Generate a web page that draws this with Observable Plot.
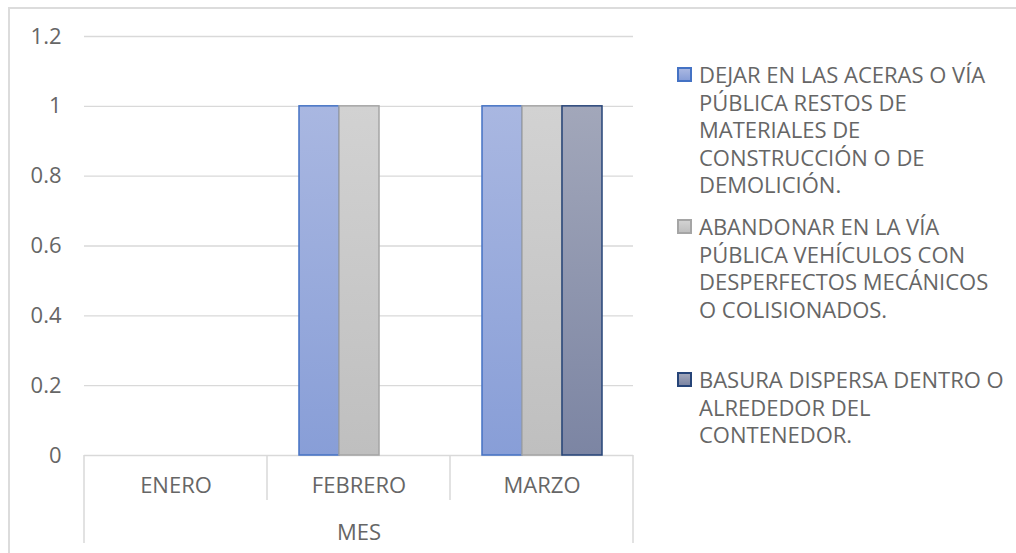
<!DOCTYPE html>
<html>
<head>
<meta charset="utf-8">
<script src="https://cdn.jsdelivr.net/npm/d3@7"></script>
<script src="https://cdn.jsdelivr.net/npm/@observablehq/plot@0.6"></script>
<style>
  html, body { margin: 0; padding: 0; background: #fff; }
  #wrap { position: relative; width: 1016px; height: 553px; overflow: hidden; font-family: "Open Sans", sans-serif; color: #666666; }
  #frame { position: absolute; left: 8px; top: 7px; width: 1100px; height: 700px; border-left: 2px solid #dcdcdc; border-top: 2px solid #dcdcdc; }
  #chart { position: absolute; left: 0; top: 0; }
  .item { position: absolute; left: 677px; font-size: 22px; line-height: 27.5px; }
  .item .sw { position: absolute; left: 0; top: 6px; width: 11px; height: 11px; border: 2px solid; }
  .item .tx { position: absolute; left: 22px; top: 0; white-space: nowrap; }
</style>
</head>
<body>
<div id="wrap">
  <div id="frame"></div>
  <div id="chart"></div>
  <div id="legend"></div>
</div>
<script>
// ---- data ----
const months = ["ENERO", "FEBRERO", "MARZO"];
const legendLines = [
  ["DEJAR EN LAS ACERAS O VÍA", "PÚBLICA RESTOS DE", "MATERIALES DE", "CONSTRUCCIÓN O DE", "DEMOLICIÓN."],
  ["ABANDONAR EN LA VÍA", "PÚBLICA VEHÍCULOS CON", "DESPERFECTOS MECÁNICOS", "O COLISIONADOS."],
  ["BASURA DISPERSA DENTRO O", "ALREDEDOR DEL", "CONTENEDOR."]
];
const seriesNames = legendLines.map(l => l.join(" "));
const valuesAceras = [0, 1, 1];
const valuesVehiculos = [0, 1, 1];
const valuesBasura = [0, 0, 1];
const yTicks = [0, 0.2, 0.4, 0.6, 0.8, 1, 1.2];
const axisTitle = "MES";

// ---- styles ----
const fillTop = ["#a9b7e1", "#d2d2d2", "#a2a7ba"];
const fillBottom = ["#889ed7", "#bfbfbf", "#7c85a3"];
const strokes = ["#4472c4", "#a5a5a5", "#264478"];
const legendTops = [61, 213, 366];

const seriesValues = [valuesAceras, valuesVehiculos, valuesBasura];
const data = months.flatMap((m, i) => seriesValues.map((vals, s) => ({month: m, series: seriesNames[s], s, value: vals[i]})));

const barMarks = seriesNames.map((name, s) =>
  Plot.barY(data.filter(d => d.s === s), {
    fx: "month", x: "series", y: "value",
    fill: `url(#grad${s})`, stroke: strokes[s], strokeWidth: 1.5,
    strokeOpacity: d => (d.value > 0 ? 1 : 0)
  })
);

const chart = Plot.plot({
  width: 650,
  height: 553,
  marginLeft: 83,
  marginRight: 16,
  marginTop: 36,
  marginBottom: 98,
  style: {fontFamily: "Open Sans, sans-serif", fontSize: "22px", color: "#666666", background: "transparent", overflow: "visible"},
  fx: {domain: months, padding: 0, axis: null},
  x: {domain: seriesNames, paddingInner: 0, paddingOuter: 0.744, axis: null},
  y: {domain: [0, 1.2], axis: null},
  marks: [
    Plot.gridY({ticks: yTicks, stroke: "#d9d9d9", strokeOpacity: 1, strokeWidth: 1.3}),
    ...barMarks,
    Plot.axisY({ticks: yTicks, tickSize: 0, tickPadding: 23, tickFormat: d => String(+d.toFixed(1)), label: null}),
    Plot.axisFx({anchor: "bottom", tickSize: 0, tickPadding: 22, label: axisTitle, labelAnchor: "center", labelOffset: 84})
  ]
});
document.getElementById("chart").appendChild(chart);

// gradients
const svg = d3.select(chart);
const defs = svg.insert("defs", ":first-child");
fillTop.forEach((c, i) => {
  const g = defs.append("linearGradient").attr("id", `grad${i}`).attr("x1", 0).attr("y1", 0).attr("x2", 0).attr("y2", 1);
  g.append("stop").attr("offset", "0%").attr("stop-color", c);
  g.append("stop").attr("offset", "100%").attr("stop-color", fillBottom[i]);
});

// category separators from fx scale
const fx = chart.scale("fx");
const y = chart.scale("y");
const y0 = y.apply(0);
const bw = fx.bandwidth;
const edges = months.map(m => fx.apply(m)).concat([fx.apply(months[months.length - 1]) + bw]);
const sep = svg.append("g").attr("stroke", "#d9d9d9").attr("stroke-width", 1.5);
edges.forEach((x, i) => {
  const outer = i === 0 || i === edges.length - 1;
  sep.append("line").attr("x1", x).attr("x2", x).attr("y1", y0).attr("y2", outer ? 543 : 500);
});

// legend
const legend = d3.select("#legend");
legendLines.forEach((lines, i) => {
  const it = legend.append("div").attr("class", "item").style("top", legendTops[i] + "px");
  it.append("div").attr("class", "sw")
    .style("border-color", strokes[i])
    .style("background", `linear-gradient(${fillTop[i]}, ${fillBottom[i]})`);
  it.append("div").attr("class", "tx").html(lines.join("<br>"));
});
</script>
</body>
</html>
